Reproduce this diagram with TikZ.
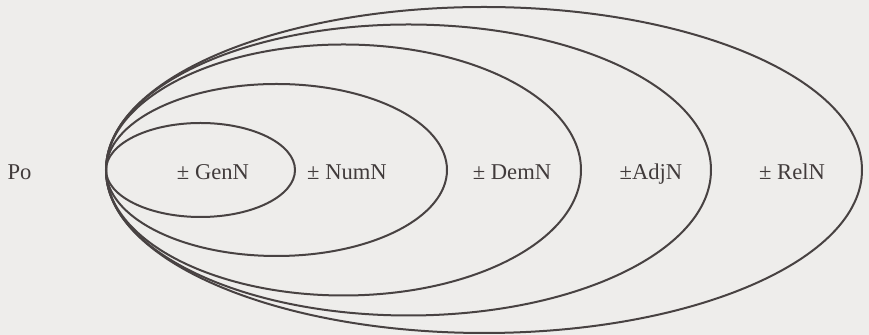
\documentclass[tikz,border=0pt]{standalone}
\usepackage{fontspec}
\setmainfont{Liberation Serif}
\usepackage{tikz}
\usetikzlibrary{positioning,calc}
\definecolor{inkcolor}{RGB}{72,66,66}
\definecolor{papercolor}{RGB}{238,237,235}

\begin{document}
\begin{tikzpicture}[x=0.5pt, y=-0.5pt,
    label/.style={text=inkcolor!90!black, font=\fontsize{11.3}{13}\selectfont, anchor=base, inner sep=0pt},
    ring/.style={draw=inkcolor, line width=1pt}]
    % page
    \fill[papercolor] (0,0) rectangle (869,335);
    \useasboundingbox (0,0) rectangle (869,335);

    % nested sets, all touching at the left
    \coordinate (tip) at (106,170);
    \foreach \rx/\ry in {94.5/47, 170.5/86, 237.5/125.5, 302.5/145.5, 378/163}
      \draw[ring] ($(tip)+(\rx,0)$) ellipse [x radius=\rx*0.5pt, y radius=\ry*0.5pt];

    % labels
    \node[label] (po)  at (19.5,180) {Po};
    \node[label] (gen) at (213,180) {± GenN};
    \node[label] (num) at (347,180) {± NumN};
    \node[label] (dem) at (512,180) {± DemN};
    \node[label] (adj) at (651,180) {±AdjN};
    \node[label] (rel) at (792,180) {± RelN};
\end{tikzpicture}
\end{document}
